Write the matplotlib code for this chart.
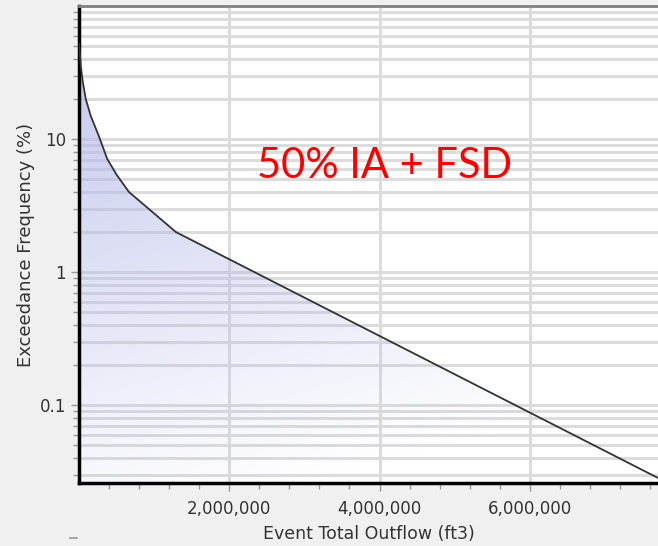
import matplotlib
matplotlib.use("Agg")
import matplotlib.pyplot as plt
import numpy as np
from matplotlib.ticker import FixedLocator, NullFormatter, FuncFormatter
from matplotlib.lines import Line2D

# exceedance curve (outflow in ft3, frequency in %)
outflow = [0, 10e3, 25e3, 50e3, 90e3, 155e3, 265e3, 375e3, 500e3, 665e3, 1.29e6, 7.7e6]
freq = [52, 45, 35, 27, 20, 15, 10.5, 7.1, 5.4, 4.0, 2.0, 0.0285]

x_major = [2e6, 4e6, 6e6]
y_labels = [0.1, 1, 10]
title_text = "50% IA + FSD"

BG = "#f0f0f0"
GRID = "#dcdcdc"
TXT = "#333333"

fig = plt.figure(figsize=(6.58, 5.46), dpi=100, facecolor=BG)
ax = fig.add_axes([79 / 658, 63 / 546, 1 - 79 / 658, 477 / 546])
ax.set_facecolor("white")
ax.set_yscale("log")
ax.set_xlim(0, 7.707e6)
ax.set_ylim(0.026, 100)

# grid: every 1..9 per decade horizontally, majors only vertically
y_grid = [m * 10.0 ** e for e in range(-2, 2) for m in range(1, 10)]
y_grid = [v for v in y_grid if 0.026 < v < 100]
ax.yaxis.set_major_locator(FixedLocator(y_labels))
ax.yaxis.set_minor_locator(FixedLocator(y_grid))
ax.yaxis.set_major_formatter(FuncFormatter(lambda v, p: f"{v:g}"))
ax.yaxis.set_minor_formatter(NullFormatter())
ax.xaxis.set_major_locator(FixedLocator(x_major))
ax.xaxis.set_minor_locator(FixedLocator(np.arange(4e5, 7.7e6, 4e5)))
ax.xaxis.set_major_formatter(FuncFormatter(lambda v, p: f"{v:,.0f}"))

for v in y_grid:
    ax.axhline(v, color=GRID, lw=2.2, zorder=0.5)
for v in x_major:
    ax.axvline(v, color=GRID, lw=2.2, zorder=0.5)

# translucent gradient fill under the curve, grid shows through
poly = ax.fill_between(outflow, freq, 1e-3, color="none", lw=0)
ny, nx = 200, 200
yy, xx = np.mgrid[0:1:ny * 1j, 0:1:nx * 1j]
t = np.clip(0.12 + 0.95 * yy - 0.3 * xx, 0, 1)
top = np.array([0.70, 0.72, 0.91])
img = np.zeros((ny, nx, 4))
img[..., :3] = top
img[..., 3] = t * 0.78
im = ax.imshow(img, extent=[0, 1, 0, 1], transform=ax.transAxes, origin="lower",
               aspect="auto", zorder=1, interpolation="bilinear")
path = poly.get_paths()[0]
im.set_clip_path(path, transform=ax.transData)

ax.plot(outflow, freq, color="#333333", lw=1.3, zorder=3)

for s in ["left", "bottom"]:
    ax.spines[s].set_color("black")
    ax.spines[s].set_linewidth(2.5)
ax.spines["top"].set_color("#808080")
ax.spines["top"].set_linewidth(2)
ax.spines["right"].set_visible(False)

ax.tick_params(which="both", direction="out", color="#999999", labelcolor=TXT,
               labelsize=12)
ax.tick_params(which="major", length=6, width=1)
ax.tick_params(which="minor", length=4, width=1)
ax.tick_params(axis="x", pad=6)

ax.set_xlabel("Event Total Outflow (ft3)", fontsize=12.5, color=TXT, labelpad=5)
ax.set_ylabel("Exceedance Frequency (%)", fontsize=13, color=TXT)
ax.yaxis.set_label_coords(-0.076, 0.5)

ax.text(0.527, 0.665, title_text, transform=ax.transAxes, color="red",
        fontsize=30, family="Lato", ha="center", va="center", zorder=4)

fig.add_artist(Line2D([70 / 658, 77 / 658], [8 / 546, 8 / 546], color="#999999", lw=1.2))

fig.savefig("out.png", dpi=100, facecolor=BG)
